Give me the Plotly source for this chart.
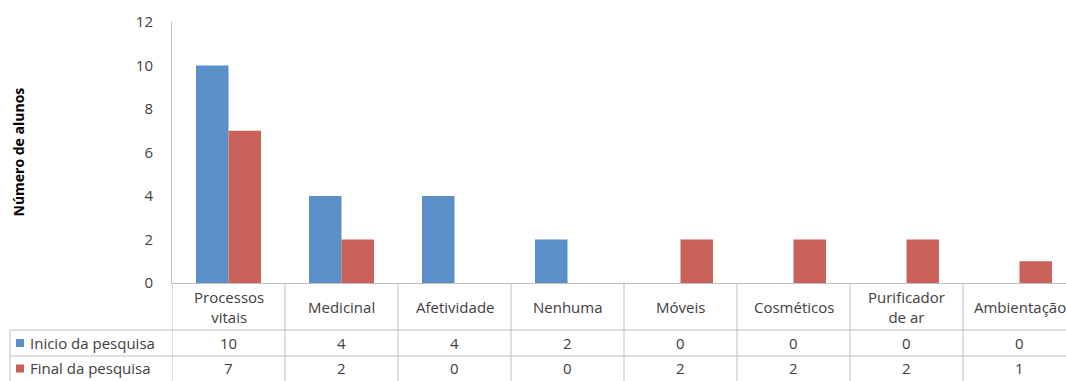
import plotly.graph_objects as go

categories = ["Processos vitais", "Medicinal", "Afetividade", "Nenhuma", "Móveis",
              "Cosméticos", "Purificador de ar", "Ambientação"]
header_labels = ["Processos<br>vitais", "Medicinal", "Afetividade", "Nenhuma", "Móveis",
                 "Cosméticos", "Purificador<br>de ar", "Ambientação"]
series_names = ["Inicio da pesquisa", "Final da pesquisa"]
inicio = [10, 4, 4, 2, 0, 0, 0, 0]
final = [7, 2, 0, 0, 2, 2, 2, 1]
y_ticks = [0, 2, 4, 6, 8, 10, 12]

BLUE = "#5B8FC7"
RED = "#CB6259"
GRID = "#BFBFBF"
TXT = "#404040"
FONT = "Open Sans"
FS = 15

W, H = 1066, 381
ML, MR, MT, MB = 172, 0, 22, 98
PW = W - ML - MR
PH = H - MT - MB
CAT_PX = 113.0

def py(pix):
    return (MT + PH - pix) / PH

def px(pix):
    return (pix - ML) / PW

xs = list(range(len(categories)))
fig = go.Figure()
fig.add_trace(go.Bar(x=xs, y=inicio, name=series_names[0], marker_color=BLUE,
                     marker_line_width=0))
fig.add_trace(go.Bar(x=xs, y=final, name=series_names[1], marker_color=RED,
                     marker_line_width=0))

x_max = -0.5 + PW / CAT_PX

shapes = []
annotations = []
line = dict(color=GRID, width=1)

# horizontal table lines
for yp in [330, 356]:
    shapes.append(dict(type="line", xref="paper", yref="paper", x0=px(10), x1=1.0,
                       y0=py(yp), y1=py(yp), line=line, layer="above"))
# left border of legend column
shapes.append(dict(type="line", xref="paper", yref="paper", x0=px(10), x1=px(10),
                   y0=py(330), y1=py(381), line=line))
# column boundaries
for i in range(len(categories)):
    shapes.append(dict(type="line", xref="x", yref="paper", x0=i - 0.5, x1=i - 0.5,
                       y0=0, y1=py(381), line=line))

# legend keys in table
for k, (col, yc) in enumerate([(BLUE, 343), (RED, 368.5)]):
    shapes.append(dict(type="rect", xref="paper", yref="paper", x0=px(16), x1=px(24),
                       y0=py(yc + 4), y1=py(yc - 4), fillcolor=col, line=dict(width=0)))
    annotations.append(dict(xref="paper", yref="paper", x=px(28), y=py(yc),
                            text=series_names[k], showarrow=False, xanchor="left",
                            yanchor="middle", font=dict(family=FONT, size=FS, color=TXT)))

# header labels and values
for i, lab in enumerate(header_labels):
    annotations.append(dict(xref="x", yref="paper", x=i, y=py(306.5), text=lab,
                            showarrow=False, xanchor="center", yanchor="middle",
                            font=dict(family=FONT, size=FS, color=TXT)))
    annotations.append(dict(xref="x", yref="paper", x=i, y=py(343), text=str(inicio[i]),
                            showarrow=False, xanchor="center", yanchor="middle",
                            font=dict(family=FONT, size=FS, color=TXT)))
    annotations.append(dict(xref="x", yref="paper", x=i, y=py(368.5), text=str(final[i]),
                            showarrow=False, xanchor="center", yanchor="middle",
                            font=dict(family=FONT, size=FS, color=TXT)))

# y-axis title
annotations.append(dict(xref="paper", yref="paper", x=px(18), y=0.5,
                        text="<b>Número de alunos</b>", textangle=-90, showarrow=False,
                        xanchor="center", yanchor="middle",
                        font=dict(family=FONT, size=14, color="#000000")))

fig.update_layout(
    width=W, height=H,
    margin=dict(l=ML, r=MR, t=MT, b=MB, pad=0),
    paper_bgcolor="white", plot_bgcolor="white",
    barmode="group", bargap=0.425, bargroupgap=0,
    showlegend=False,
    shapes=shapes, annotations=annotations,
    font=dict(family=FONT, size=FS, color=TXT),
    xaxis=dict(range=[-0.5, x_max], showticklabels=False, ticks="", showgrid=False,
               zeroline=False, showline=True, linecolor=GRID, linewidth=1, fixedrange=True),
    yaxis=dict(range=[0, 12], tickvals=y_ticks, ticks="", showgrid=False, zeroline=False,
               showline=True, linecolor=GRID, linewidth=1, ticklabelstandoff=15,
               tickfont=dict(family=FONT, size=FS, color=TXT), fixedrange=True),
)

fig.write_html("out.html")
